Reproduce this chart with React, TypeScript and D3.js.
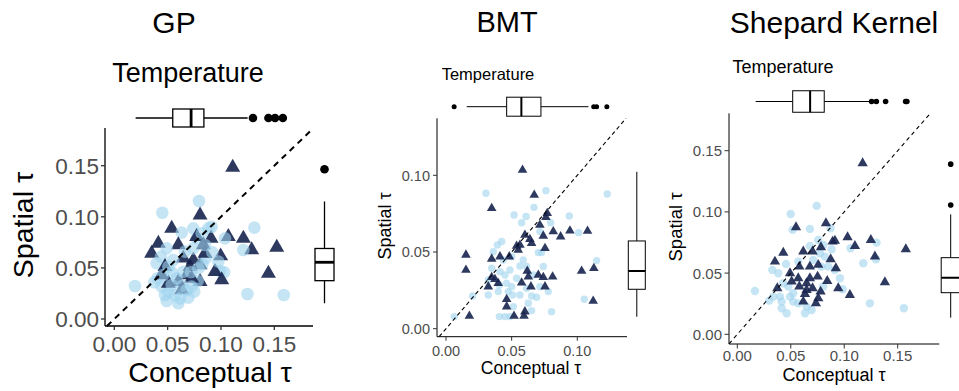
import React from 'react';
import * as d3 from 'd3';

type Pt = [number, number];

// ---------- DATA (Conceptual τ, Spatial τ) ----------
const gpCircles: Pt[] = [
  [0.0794, 0.1154], [0.045, 0.104], [0.1313, 0.0894], [0.0194, 0.0323], [0.1248, 0.0245],
  [0.1589, 0.0235], [0.0632, 0.0845], [0.0741, 0.0887], [0.0882, 0.0887], [0.0772, 0.0789],
  [0.1038, 0.0789], [0.121, 0.0675], [0.0991, 0.047], [0.1029, 0.0457], [0.0491, 0.0691],
  [0.0438, 0.061], [0.0397, 0.0545], [0.0406, 0.0398], [0.0375, 0.0359], [0.0444, 0.0317],
  [0.0507, 0.0261], [0.0491, 0.0176], [0.06, 0.0154], [0.0694, 0.0209], [0.075, 0.0268],
  [0.0782, 0.0372], [0.0825, 0.0535], [0.0857, 0.0594], [0.0538, 0.0457], [0.0585, 0.0398],
  [0.0638, 0.0326], [0.0719, 0.0457], [0.0919, 0.0652], [0.085, 0.0724], [0.0553, 0.0577],
  [0.0663, 0.0659], [0.0507, 0.0512], [0.0678, 0.0284], [0.0569, 0.0235], [0.0616, 0.0202],
  [0.0913, 0.0903], [0.0819, 0.0838], [0.0976, 0.0561], [0.0741, 0.0691], [0.0475, 0.0235],
  [0.0538, 0.0333], [0.0725, 0.0317], [0.0788, 0.0496], [0.0647, 0.0463], [0.046, 0.043],
];
const gpTriangles: Pt[] = [
  [0.111, 0.1484], [0.0804, 0.1017], [0.0538, 0.0887], [0.1069, 0.0806], [0.121, 0.0789],
  [0.1523, 0.0701], [0.0413, 0.074], [0.06, 0.0724], [0.035, 0.0642], [0.1288, 0.0675],
  [0.0997, 0.0616], [0.0772, 0.0806], [0.0835, 0.0724], [0.0907, 0.0789], [0.1445, 0.0447],
  [0.1007, 0.0382], [0.0475, 0.0512], [0.0647, 0.0594], [0.071, 0.0512], [0.0804, 0.0528],
  [0.0444, 0.043], [0.0632, 0.0284], [0.0804, 0.0365], [0.0944, 0.0463], [0.0741, 0.0577],
  [0.0679, 0.043], [0.06, 0.0365], [0.085, 0.0642], [0.0725, 0.0398], [0.0507, 0.0349],
];

const bmtCircles: Pt[] = [
  [0.0304, 0.0883], [0.0761, 0.09], [0.1228, 0.0878], [0.067, 0.0791], [0.0518, 0.0741],
  [0.061, 0.0731], [0.0576, 0.0691], [0.0939, 0.0735], [0.0797, 0.0691], [0.0715, 0.0633],
  [0.101, 0.0626], [0.0424, 0.0568], [0.0391, 0.0546], [0.036, 0.0502], [0.0703, 0.0496],
  [0.0728, 0.0496], [0.05, 0.047], [0.1147, 0.0444], [0.0348, 0.0394], [0.0563, 0.0409],
  [0.0487, 0.0383], [0.0449, 0.035], [0.0406, 0.0285], [0.0462, 0.0296], [0.05, 0.0274],
  [0.0474, 0.0242], [0.0507, 0.022], [0.0563, 0.022], [0.0322, 0.022], [0.0203, 0.0213],
  [0.0398, 0.0242], [0.0652, 0.0213], [0.069, 0.0205], [0.0627, 0.0166], [0.0652, 0.0118],
  [0.0513, 0.0144], [0.0804, 0.0111], [0.0406, 0.0079], [0.0487, 0.0079], [0.0449, 0.0079],
  [0.0063, 0.0079], [0.1053, 0.0192], [0.0779, 0.0242], [0.0665, 0.035], [0.0614, 0.0405],
  [0.0741, 0.0405], [0.0588, 0.0448], [0.0436, 0.0448], [0.0322, 0.0318], [0.0614, 0.0263],
  [0.0538, 0.0329], [0.0411, 0.0372], [0.0715, 0.0274],
];
const bmtTriangles: Pt[] = [
  [0.0583, 0.1035], [0.0672, 0.0872], [0.0348, 0.0785], [0.0771, 0.0752], [0.0761, 0.0726],
  [0.0715, 0.0676], [0.0817, 0.0633], [0.0944, 0.0639], [0.1078, 0.0637], [0.0873, 0.06],
  [0.0741, 0.0605], [0.0601, 0.0611], [0.0639, 0.0583], [0.0563, 0.0546], [0.0652, 0.0557],
  [0.055, 0.0513], [0.0754, 0.0524], [0.0152, 0.0481], [0.0348, 0.0455], [0.0411, 0.047],
  [0.0482, 0.047], [0.0152, 0.0383], [0.0619, 0.0376], [0.0348, 0.0335], [0.0373, 0.0322],
  [0.0322, 0.0274], [0.0398, 0.0296], [0.0627, 0.0339], [0.0576, 0.03], [0.0703, 0.035],
  [0.0741, 0.0335], [0.0812, 0.0339], [0.0647, 0.0274], [0.0754, 0.0274], [0.1033, 0.0376],
  [0.1126, 0.0394], [0.0462, 0.0192], [0.0462, 0.0144], [0.0518, 0.0083], [0.0601, 0.0111],
  [0.0594, 0.0083], [0.0178, 0.0083], [0.1121, 0.0181], [0.0538, 0.0539],
];

const skCircles: Pt[] = [
  [0.0742, 0.1049], [0.0499, 0.0983], [0.0517, 0.0853], [0.0679, 0.0861], [0.0872, 0.0866],
  [0.0757, 0.0771], [0.0679, 0.0722], [0.0804, 0.073], [0.0882, 0.0695], [0.1059, 0.0703],
  [0.1302, 0.0749], [0.1296, 0.0613], [0.1178, 0.058], [0.0455, 0.0575], [0.0327, 0.0526],
  [0.0383, 0.0499], [0.057, 0.0594], [0.0819, 0.0635], [0.0788, 0.0553], [0.096, 0.0458],
  [0.0985, 0.0368], [0.0913, 0.0526], [0.0165, 0.0354], [0.0299, 0.0275], [0.0399, 0.0308],
  [0.0477, 0.039], [0.0523, 0.0335], [0.0415, 0.0213], [0.0461, 0.0172], [0.0633, 0.0172],
  [0.0695, 0.0199], [0.0523, 0.0267], [0.0415, 0.0267], [0.0337, 0.0308], [0.124, 0.0253],
  [0.1558, 0.0213], [0.0804, 0.039], [0.0648, 0.0226], [0.057, 0.0253], [0.0492, 0.0308],
  [0.043, 0.0417], [0.071, 0.0608], [0.085, 0.0553], [0.0773, 0.0662],
];
const skTriangles: Pt[] = [
  [0.1172, 0.1397], [0.0549, 0.0874], [0.0829, 0.0907], [0.0913, 0.0765], [0.0891, 0.0757],
  [0.1031, 0.0793], [0.11, 0.0722], [0.1249, 0.0771], [0.1287, 0.0635], [0.1576, 0.0695],
  [0.043, 0.0667], [0.0617, 0.0676], [0.0704, 0.0676], [0.0782, 0.0711], [0.0352, 0.0594],
  [0.0873, 0.0613], [0.0922, 0.054], [0.0757, 0.0567], [0.0679, 0.0553], [0.058, 0.0553],
  [0.0493, 0.0499], [0.057, 0.0458], [0.0679, 0.0458], [0.0751, 0.0471], [0.0841, 0.0436],
  [0.0374, 0.0376], [0.058, 0.039], [0.0648, 0.0362], [0.0704, 0.0376], [0.0633, 0.033],
  [0.0779, 0.0349], [0.0757, 0.0294], [0.0617, 0.0267], [0.0735, 0.0253], [0.0944, 0.0376],
  [0.1053, 0.0321], [0.138, 0.0425], [0.0648, 0.0417], [0.0508, 0.0431],
];

// Boxplot statistics: [lower whisker, Q1, median, Q3, upper whisker]
const gpTopStats = [0.02, 0.0548, 0.072, 0.084, 0.125];
const gpTopOutliers = [0.13, 0.1445, 0.1507, 0.158];
const gpRightStats = [0.0154, 0.0375, 0.0555, 0.069, 0.115];
const gpRightOutliers = [0.1465];

const bmtTopStats = [0.0158, 0.0462, 0.0574, 0.0723, 0.1085];
const bmtTopOutliers = [0.0062, 0.1125, 0.1147, 0.1225];
const bmtRightStats = [0.0078, 0.0257, 0.0376, 0.0572, 0.1023];
const bmtRightOutliers: number[] = [];

const skTopStats = [0.0172, 0.0518, 0.0681, 0.0813, 0.1235];
const skTopOutliers = [0.1256, 0.13, 0.1387, 0.1574, 0.1586];
const skRightStats = [0.0136, 0.034, 0.0462, 0.0626, 0.098];
const skRightOutliers = [0.1056, 0.139];

const gpTicks = [0, 0.05, 0.1, 0.15];
const bmtTicks = [0, 0.05, 0.1];
const skTicks = [0, 0.05, 0.1, 0.15];

const titles = ['GP', 'BMT', 'Shepard Kernel'];
const subtitle = 'Temperature';
const xLabel = 'Conceptual τ';
const yLabel = 'Spatial τ';

// ---------- STYLE ----------
const FONT = "'Liberation Sans', Arial, Helvetica, sans-serif";
const CIRCLE_FILL = '#9fd3ef';
const CIRCLE_OPACITY = 0.6;
const TRI_FILL = '#17234f';
const TRI_OPACITY = 0.9;

type Txt = { x: number; y: number; size: number };
type Cfg = {
  xRange: [number, number]; yRange: [number, number];
  domainMax: number;
  area: { left: number; right: number; top: number; bottom: number };
  ticks: number[]; circles: Pt[]; triangles: Pt[];
  circleR: number; triSize: number; interleave: boolean;
  topStats: number[]; topOut: number[]; topCy: number; topH: number;
  rightStats: number[]; rightOut: number[]; rightCx: number; rightW: number;
  axisW: number; boxW: number; medW: number; outR: number; dash: string; dashW: number;
  tickFont: number; tickLen: number; xTickY: number; yTickX: number;
  title: string; titleT: Txt; subT: Txt; xLab: Txt; yLab: Txt;
};

const fmt = d3.format('.2f');

function Panel({ c }: { c: Cfg }) {
  const x = d3.scaleLinear().domain([0, c.domainMax]).range(c.xRange);
  const y = d3.scaleLinear().domain([0, c.domainMax]).range(c.yRange);
  const { left, right, top, bottom } = c.area;
  const d0 = Math.max(x.invert(left), y.invert(bottom));
  const d1 = Math.min(x.invert(right), y.invert(top));
  const tri = d3.symbol().type(d3.symbolTriangle).size(c.triSize)() as string;
  const [tlo, tq1, tmed, tq3, thi] = c.topStats;
  const [rlo, rq1, rmed, rq3, rhi] = c.rightStats;

  const circleEl = (p: Pt, k: string) => (
    <circle key={k} cx={x(p[0])} cy={y(p[1])} r={c.circleR} fill={CIRCLE_FILL} fillOpacity={CIRCLE_OPACITY} />
  );
  const triEl = (p: Pt, k: string) => (
    <path key={k} d={tri} transform={`translate(${x(p[0])},${y(p[1])})`} fill={TRI_FILL} fillOpacity={TRI_OPACITY} />
  );

  let marks: React.ReactNode[] = [];
  if (c.interleave) {
    const n = Math.max(c.circles.length, c.triangles.length);
    for (let i = 0; i < n; i++) {
      if (i < c.circles.length) marks.push(circleEl(c.circles[i], 'c' + i));
      if (i < c.triangles.length) marks.push(triEl(c.triangles[i], 't' + i));
    }
  } else {
    marks = [
      ...c.circles.map((p, i) => circleEl(p, 'c' + i)),
      ...c.triangles.map((p, i) => triEl(p, 't' + i)),
    ];
  }

  return (
    <g fontFamily={FONT}>
      <text x={c.titleT.x} y={c.titleT.y} fontSize={c.titleT.size} textAnchor="middle" fill="#000">{c.title}</text>
      <text x={c.subT.x} y={c.subT.y} fontSize={c.subT.size} textAnchor="middle" fill="#000">{subtitle}</text>

      {/* points */}
      <g>{marks}</g>

      {/* diagonal */}
      <line x1={x(d0)} y1={y(d0)} x2={x(d1)} y2={y(d1)} stroke="#000" strokeWidth={c.dashW} strokeDasharray={c.dash} />

      {/* axes */}
      <line x1={left} x2={left} y1={top} y2={bottom} stroke="#000" strokeWidth={c.axisW} />
      <line x1={left} x2={right} y1={bottom} y2={bottom} stroke="#000" strokeWidth={c.axisW} />
      {c.ticks.map((t) => (
        <g key={'x' + t}>
          <line x1={x(t)} x2={x(t)} y1={bottom} y2={bottom + c.tickLen} stroke="#333" strokeWidth={c.axisW} />
          <text x={x(t)} y={c.xTickY} fontSize={c.tickFont} textAnchor="middle" fill="#4d4d4d">{fmt(t)}</text>
        </g>
      ))}
      {c.ticks.map((t) => (
        <g key={'y' + t}>
          <line x1={left - c.tickLen} x2={left} y1={y(t)} y2={y(t)} stroke="#333" strokeWidth={c.axisW} />
          <text x={c.yTickX} y={y(t)} dy="0.36em" fontSize={c.tickFont} textAnchor="end" fill="#4d4d4d">{fmt(t)}</text>
        </g>
      ))}
      <text x={c.xLab.x} y={c.xLab.y} fontSize={c.xLab.size} textAnchor="middle" fill="#000">{xLabel}</text>
      <text transform={`translate(${c.yLab.x},${c.yLab.y}) rotate(-90)`} fontSize={c.yLab.size} textAnchor="middle" fill="#000">{yLabel}</text>

      {/* top boxplot (conceptual) */}
      <g stroke="#000" fill="none" strokeWidth={c.boxW}>
        <line x1={x(tlo)} x2={x(tq1)} y1={c.topCy} y2={c.topCy} />
        <line x1={x(tq3)} x2={x(thi)} y1={c.topCy} y2={c.topCy} />
        <rect x={x(tq1)} y={c.topCy - c.topH / 2} width={x(tq3) - x(tq1)} height={c.topH} fill="#fff" />
        <line x1={x(tmed)} x2={x(tmed)} y1={c.topCy - c.topH / 2} y2={c.topCy + c.topH / 2} strokeWidth={c.medW} />
      </g>
      {c.topOut.map((o, i) => (
        <circle key={'to' + i} cx={x(o)} cy={c.topCy} r={c.outR} fill="#000" />
      ))}

      {/* right boxplot (spatial) */}
      <g stroke="#000" fill="none" strokeWidth={c.boxW}>
        <line y1={y(rlo)} y2={y(rq1)} x1={c.rightCx} x2={c.rightCx} />
        <line y1={y(rq3)} y2={y(rhi)} x1={c.rightCx} x2={c.rightCx} />
        <rect x={c.rightCx - c.rightW / 2} y={y(rq3)} width={c.rightW} height={y(rq1) - y(rq3)} fill="#fff" />
        <line x1={c.rightCx - c.rightW / 2} x2={c.rightCx + c.rightW / 2} y1={y(rmed)} y2={y(rmed)} strokeWidth={c.medW} />
      </g>
      {c.rightOut.map((o, i) => (
        <circle key={'ro' + i} cx={c.rightCx} cy={y(o)} r={c.outR} fill="#000" />
      ))}
    </g>
  );
}

const gpCfg: Cfg = {
  xRange: [114.3, 274.3], yRange: [319, 165.7], domainMax: 0.15,
  area: { left: 105, right: 313, top: 128, bottom: 326 },
  ticks: gpTicks, circles: gpCircles, triangles: gpTriangles,
  circleR: 6.3, triSize: 97, interleave: true,
  topStats: gpTopStats, topOut: gpTopOutliers, topCy: 118, topH: 18,
  rightStats: gpRightStats, rightOut: gpRightOutliers, rightCx: 324.5, rightW: 19,
  axisW: 1.3, boxW: 1.3, medW: 2.8, outR: 4.3, dash: '6,5', dashW: 2,
  tickFont: 22.5, tickLen: 4, xTickY: 352, yTickX: 99,
  title: titles[0], titleT: { x: 174, y: 33, size: 30 }, subT: { x: 188, y: 82, size: 27 },
  xLab: { x: 210, y: 382, size: 28.5 }, yLab: { x: 33, y: 225, size: 28.5 },
};

const bmtCfg: Cfg = {
  xRange: [446, 577.3], yRange: [328.7, 175.3], domainMax: 0.1,
  area: { left: 437, right: 627, top: 118.3, bottom: 336.7 },
  ticks: bmtTicks, circles: bmtCircles, triangles: bmtTriangles,
  circleR: 3.7, triSize: 40, interleave: false,
  topStats: bmtTopStats, topOut: bmtTopOutliers, topCy: 106.7, topH: 19,
  rightStats: bmtRightStats, rightOut: bmtRightOutliers, rightCx: 636.8, rightW: 17,
  axisW: 1, boxW: 1, medW: 2, outR: 2.5, dash: '4,3', dashW: 1.1,
  tickFont: 14.5, tickLen: 4, xTickY: 355.5, yTickX: 430,
  title: titles[1], titleT: { x: 507, y: 32, size: 29 }, subT: { x: 488, y: 80, size: 16.5 },
  xLab: { x: 531, y: 373.5, size: 17.5 }, yLab: { x: 391, y: 226, size: 18 },
};

const skCfg: Cfg = {
  xRange: [737.3, 897.7], yRange: [334.3, 150.7], domainMax: 0.15,
  area: { left: 729, right: 939.3, top: 113.3, bottom: 344 },
  ticks: skTicks, circles: skCircles, triangles: skTriangles,
  circleR: 4.2, triSize: 46, interleave: false,
  topStats: skTopStats, topOut: skTopOutliers, topCy: 101.5, topH: 21.5,
  rightStats: skRightStats, rightOut: skRightOutliers, rightCx: 950.7, rightW: 19,
  axisW: 1, boxW: 1, medW: 2, outR: 2.8, dash: '4,3.5', dashW: 1.1,
  tickFont: 15, tickLen: 4.5, xTickY: 361, yTickX: 722,
  title: titles[2], titleT: { x: 834, y: 33, size: 30 }, subT: { x: 783, y: 73, size: 18 },
  xLab: { x: 834, y: 381, size: 18 }, yLab: { x: 682, y: 227, size: 18.5 },
};

export default function App() {
  return (
    <svg
      width={959}
      height={391}
      style={{ position: 'absolute', left: 0, top: 0, background: '#fff' }}
    >
      <rect x={0} y={0} width={959} height={391} fill="#fff" />
      <Panel c={gpCfg} />
      <Panel c={bmtCfg} />
      <Panel c={skCfg} />
    </svg>
  );
}
